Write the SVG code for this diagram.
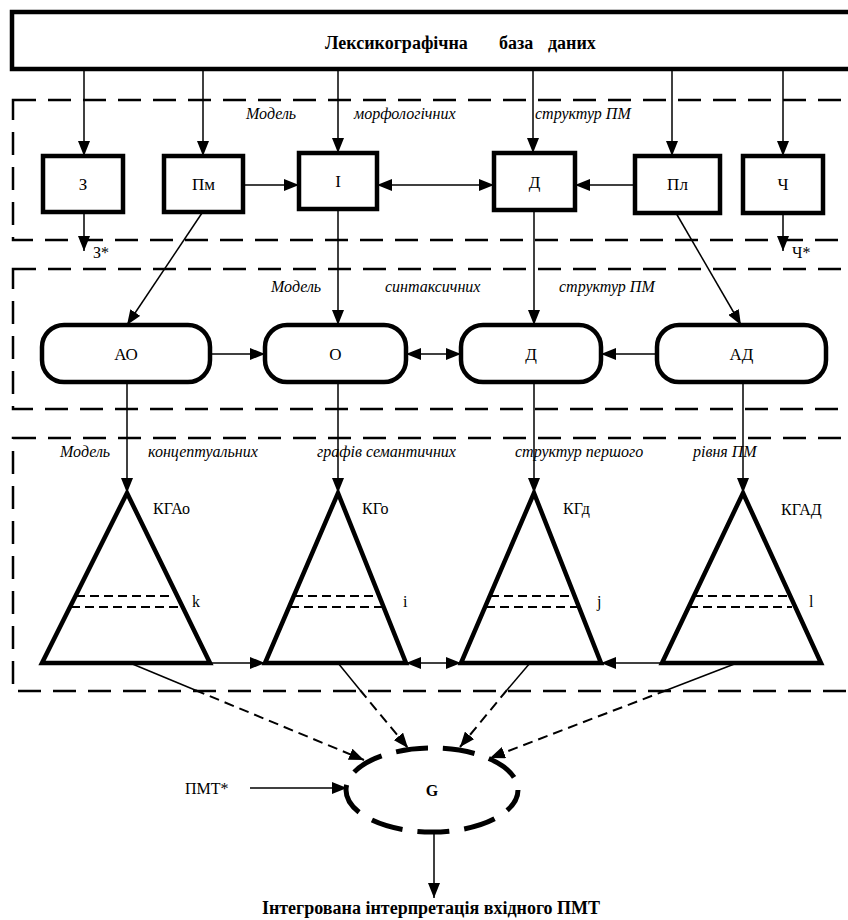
<svg xmlns="http://www.w3.org/2000/svg" width="848" height="920" viewBox="0 0 848 920" font-family="'Liberation Serif', 'DejaVu Serif', serif">
<style>
  text { font-family: 'Liberation Serif', 'DejaVu Serif', serif; fill: #000; }
  .lbl { font-size: 17px; text-anchor: middle; }
  .lbl16 { font-size: 17px; text-anchor: middle; }
  .it { font-size: 16px; font-style: italic; }
  .small { font-size: 16px; }
  .b { font-weight: bold; }
  .box { fill: #fff; stroke: #000; stroke-width: 4.5; }
  .tri { fill: none; stroke: #000; stroke-width: 4.5; stroke-linejoin: miter; }
  .zone { fill: none; stroke: #000; stroke-width: 2.5; stroke-dasharray: 23 12; }
  .lvl { stroke: #000; stroke-width: 2; stroke-dasharray: 9 5; }
  .c { fill: none; stroke: #000; stroke-width: 1.5; }
  .ca { fill: none; stroke: #000; stroke-width: 1.5; marker-end: url(#ah); }
  .cd { fill: none; stroke: #000; stroke-width: 1.5; marker-start: url(#ah); marker-end: url(#ah); }
  .dla { fill: none; stroke: #000; stroke-width: 2; stroke-dasharray: 10 6; marker-end: url(#ah); }
</style>
<defs>
  <marker id="ah" markerUnits="userSpaceOnUse" markerWidth="16" markerHeight="12" refX="15" refY="6" orient="auto-start-reverse">
    <path d="M0,0 L15,6 L0,12 Z" fill="#000"/>
  </marker>
</defs>
<rect width="848" height="920" fill="#fff"/>

<!-- model zones -->
<g id="zones">
  <rect class="zone" x="13" y="100" width="850" height="140"/>
  <rect class="zone" x="13" y="269" width="850" height="140"/>
  <rect class="zone" x="13" y="438" width="850" height="253"/>
  <text class="it" x="246" y="119">Модель</text>
  <text class="it" x="354" y="119">морфологічних</text>
  <text class="it" x="535" y="119">структур ПМ</text>
  <text class="it" x="271" y="292">Модель</text>
  <text class="it" x="385" y="292">синтаксичних</text>
  <text class="it" x="559" y="292">структур ПМ</text>
  <text class="it" x="60" y="457">Модель</text>
  <text class="it" x="148" y="457">концептуальних</text>
  <text class="it" x="317" y="457">графів семантичних</text>
  <text class="it" x="515" y="457">структур першого</text>
  <text class="it" x="693" y="457">рівня ПМ</text>
</g>

<!-- lexicographic database -->
<g id="db">
  <rect class="box" x="12" y="12" width="850" height="57"/>
  <text class="b" x="325" y="49" font-size="18">Лексикографічна</text>
  <text class="b" x="499" y="49" font-size="18">база</text>
  <text class="b" x="548" y="49" font-size="18">даних</text>
</g>

<!-- connectors -->
<g id="connectors">
  <!-- from database -->
  <line class="ca" x1="84" y1="69" x2="84" y2="156"/>
  <line class="ca" x1="203" y1="69" x2="203" y2="156"/>
  <line class="ca" x1="338" y1="69" x2="338" y2="153"/>
  <line class="ca" x1="533" y1="69" x2="533" y2="153"/>
  <line class="ca" x1="672" y1="69" x2="672" y2="156"/>
  <line class="ca" x1="783" y1="69" x2="783" y2="156"/>
  <!-- morphological level -->
  <line class="ca" x1="243" y1="185" x2="299" y2="185"/>
  <line class="cd" x1="377" y1="185" x2="494" y2="185"/>
  <line class="ca" x1="635" y1="185" x2="575" y2="185"/>
  <line class="ca" x1="84" y1="212" x2="84" y2="251"/>
  <line class="ca" x1="783" y1="213" x2="783" y2="251"/>
  <!-- to syntactic level -->
  <line class="ca" x1="202" y1="213" x2="127" y2="325"/>
  <line class="ca" x1="338" y1="209" x2="338" y2="325"/>
  <line class="ca" x1="534" y1="210" x2="534" y2="325"/>
  <line class="ca" x1="676" y1="213" x2="741" y2="325"/>
  <!-- syntactic level -->
  <line class="ca" x1="210" y1="354" x2="265" y2="354"/>
  <line class="cd" x1="406" y1="354" x2="461" y2="354"/>
  <line class="ca" x1="657" y1="354" x2="601" y2="354"/>
  <!-- to conceptual graphs -->
  <line class="ca" x1="127" y1="382" x2="127" y2="493"/>
  <line class="ca" x1="338" y1="382" x2="338" y2="493"/>
  <line class="ca" x1="534" y1="382" x2="534" y2="493"/>
  <line class="ca" x1="743" y1="382" x2="743" y2="493"/>
  <!-- conceptual graph level -->
  <line class="ca" x1="210" y1="663" x2="265" y2="663"/>
  <line class="cd" x1="406" y1="663" x2="461" y2="663"/>
  <line class="ca" x1="662" y1="663" x2="601" y2="663"/>
  <!-- to integration: solid inside the zone, dashed below it -->
  <line class="c" x1="130" y1="663" x2="195" y2="690"/>
  <line class="dla" x1="195" y1="690" x2="364" y2="760"/>
  <line class="c" x1="338" y1="663" x2="360" y2="690"/>
  <line class="dla" x1="360" y1="690" x2="408" y2="748"/>
  <line class="c" x1="530" y1="663" x2="507" y2="690"/>
  <line class="dla" x1="507" y1="690" x2="460" y2="747"/>
  <line class="c" x1="737" y1="663" x2="667" y2="690"/>
  <line class="dla" x1="667" y1="690" x2="490" y2="758"/>
  <line class="ca" x1="250" y1="788" x2="347" y2="788"/>
  <line class="ca" x1="434" y1="832" x2="434" y2="898"/>
</g>

<!-- morphological structures -->
<g id="node-z">
  <rect class="box" x="43" y="156" width="80" height="56"/>
  <text class="lbl" x="83" y="190">З</text>
  <text class="small" x="93" y="258">З*</text>
</g>
<g id="node-pm">
  <rect class="box" x="164" y="156" width="79" height="56"/>
  <text class="lbl" x="203.5" y="190">Пм</text>
</g>
<g id="node-i">
  <rect class="box" x="299" y="153" width="78" height="56"/>
  <text class="lbl" x="338" y="187">І</text>
</g>
<g id="node-d">
  <rect class="box" x="494" y="153" width="81" height="57"/>
  <text class="lbl" x="534.5" y="188">Д</text>
</g>
<g id="node-pl">
  <rect class="box" x="635" y="156" width="85" height="57"/>
  <text class="lbl" x="677.5" y="190">Пл</text>
</g>
<g id="node-ch">
  <rect class="box" x="743" y="156" width="80" height="57"/>
  <text class="lbl" x="783" y="190">Ч</text>
  <text class="small" x="792" y="258">Ч*</text>
</g>

<!-- syntactic structures -->
<g id="node-ao">
  <rect class="box" x="42" y="325" width="168" height="57" rx="22"/>
  <text class="lbl16" x="126" y="360">АО</text>
</g>
<g id="node-o">
  <rect class="box" x="265" y="325" width="141" height="57" rx="22"/>
  <text class="lbl16" x="335.5" y="360">О</text>
</g>
<g id="node-ds">
  <rect class="box" x="461" y="325" width="140" height="57" rx="22"/>
  <text class="lbl16" x="531" y="360">Д</text>
</g>
<g id="node-ad">
  <rect class="box" x="657" y="325" width="169" height="57" rx="22"/>
  <text class="lbl16" x="741.5" y="360">АД</text>
</g>

<!-- conceptual graphs -->
<g id="graph-kgao">
  <polygon class="tri" points="127,493 210,663 42,663"/>
  <line class="lvl" x1="76" y1="596" x2="173" y2="596"/>
  <line class="lvl" x1="71" y1="607" x2="182" y2="607"/>
  <text class="small" x="153" y="514">КГАо</text>
  <text class="small" x="192" y="607">k</text>
</g>
<g id="graph-kgo">
  <polygon class="tri" points="338,493 406,663 265,663"/>
  <line class="lvl" x1="294" y1="596" x2="378" y2="596"/>
  <line class="lvl" x1="290" y1="607" x2="382" y2="607"/>
  <text class="small" x="362" y="514">КГо</text>
  <text class="small" x="403" y="607">i</text>
</g>
<g id="graph-kgd">
  <polygon class="tri" points="534,493 601,663 461,663"/>
  <line class="lvl" x1="490" y1="596" x2="571" y2="596"/>
  <line class="lvl" x1="486" y1="607" x2="578" y2="607"/>
  <text class="small" x="563" y="514">КГд</text>
  <text class="small" x="597" y="607">j</text>
</g>
<g id="graph-kgad">
  <polygon class="tri" points="743,493 821,663 662,663"/>
  <line class="lvl" x1="694" y1="596" x2="789" y2="596"/>
  <line class="lvl" x1="689" y1="607" x2="792" y2="607"/>
  <text class="small" x="781" y="515">КГАД</text>
  <text class="small" x="809" y="607">l</text>
</g>

<!-- integration -->
<g id="node-g">
  <ellipse cx="432" cy="790" rx="86" ry="42" fill="none" stroke="#000" stroke-width="5" stroke-dasharray="32 15" stroke-dashoffset="8"/>
  <text class="b" x="432" y="796" font-size="16" text-anchor="middle">G</text>
</g>
<g id="input-pmt">
  <text class="small" x="185" y="794">ПМТ*</text>
</g>
<g id="output">
  <text class="b" x="431" y="914" font-size="18" text-anchor="middle">Інтегрована інтерпретація вхідного ПМТ</text>
</g>
</svg>
